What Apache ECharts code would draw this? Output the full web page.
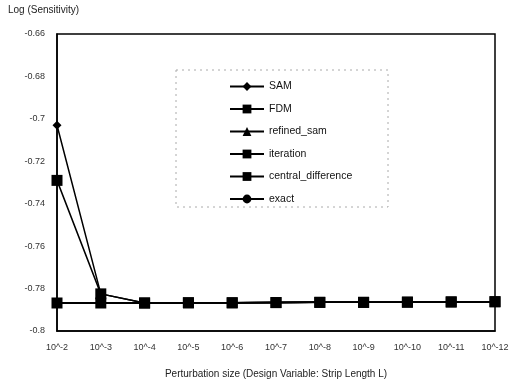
<!DOCTYPE html>
<html><head><meta charset="utf-8">
<script src="https://cdn.jsdelivr.net/npm/echarts@6/dist/echarts.min.js"></script>
<style>html,body{margin:0;padding:0;background:#fff}#c{width:514px;height:384px}</style>
</head><body><div id="c"></div>
<script>
var categories = ['10^-2','10^-3','10^-4','10^-5','10^-6','10^-7','10^-8','10^-9','10^-10','10^-11','10^-12'];
var samValues = [-0.703,-0.7825,-0.7868,-0.7867,-0.7867,-0.7866,-0.7865,-0.7865,-0.7864,-0.7863,-0.7862];
var fdmValues = [-0.7868,-0.7868,-0.7868,-0.7867,-0.7867,-0.7866,-0.7865,-0.7865,-0.7864,-0.7863,-0.7862];
var refinedSamValues = [-0.7868,-0.7868,-0.7868,-0.7867,-0.7867,-0.7866,-0.7865,-0.7865,-0.7864,-0.7863,-0.7862];
var iterationValues = [-0.729,-0.7825,-0.7868,-0.7867,-0.7867,-0.7866,-0.7865,-0.7865,-0.7864,-0.7863,-0.7862];
var centralDiffValues = [-0.7868,-0.7868,-0.7868,-0.7867,-0.7867,-0.7866,-0.7865,-0.7865,-0.7864,-0.7863,-0.7862];
var exactValues = [-0.7868,-0.7868,-0.7868,-0.7867,-0.7867,-0.7866,-0.7865,-0.7865,-0.7864,-0.7863,-0.7862];
var seriesNames = ['SAM','FDM','refined_sam','iteration','central_difference','exact'];

var font = 'Liberation Sans, Arial, sans-serif';
function mk(name, data, symbol, size) {
  return {
    name: name, type: 'line', data: data, symbol: symbol, symbolSize: size,
    lineStyle: {color: '#000', width: 1.5}, itemStyle: {color: '#000'},
    animation: false
  };
}
var chart = echarts.init(document.getElementById('c'));
chart.setOption({
  backgroundColor: '#fff',
  animation: false,
  textStyle: {fontFamily: font},
  grid: {left: 57, right: 19, top: 34, bottom: 53, show: true, borderColor: '#000', borderWidth: 1.5},
  graphic: [
    {type: 'rect', shape: {x: 176, y: 70, width: 212, height: 137},
     style: {fill: 'none', stroke: '#aaa', lineWidth: 1, lineDash: [2, 4]}},
    {type: 'text', left: 8, top: 5, style: {text: 'Log (Sensitivity)', font: '10px ' + font, fill: '#222'}}
  ],
  legend: {
    data: seriesNames, orient: 'vertical', left: 224, top: 76,
    itemWidth: 34, itemHeight: 11, itemGap: 11.5,
    textStyle: {fontSize: 10.5, color: '#111', fontFamily: font}
  },
  xAxis: {
    type: 'category', data: categories, boundaryGap: false,
    name: 'Perturbation size (Design Variable: Strip Length L)',
    nameLocation: 'middle', nameGap: 38,
    nameTextStyle: {fontSize: 10, color: '#222', fontFamily: font},
    axisLine: {lineStyle: {color: '#000', width: 1.5}},
    axisTick: {show: false},
    axisLabel: {fontSize: 9, color: '#333', margin: 12, fontFamily: font},
    splitLine: {show: false}
  },
  yAxis: {
    type: 'value', min: -0.8, max: -0.66, interval: 0.02,
    axisLine: {show: true, lineStyle: {color: '#000', width: 1.5}},
    axisTick: {show: false},
    axisLabel: {fontSize: 9, color: '#333', margin: 12, fontFamily: font},
    splitLine: {show: false}
  },
  series: [
    mk('SAM', samValues, 'diamond', 9),
    mk('FDM', fdmValues, 'rect', 7),
    mk('refined_sam', refinedSamValues, 'triangle', 8),
    mk('iteration', iterationValues, 'rect', 11),
    mk('central_difference', centralDiffValues, 'rect', 11),
    mk('exact', exactValues, 'circle', 7)
  ]
});
</script></body></html>
